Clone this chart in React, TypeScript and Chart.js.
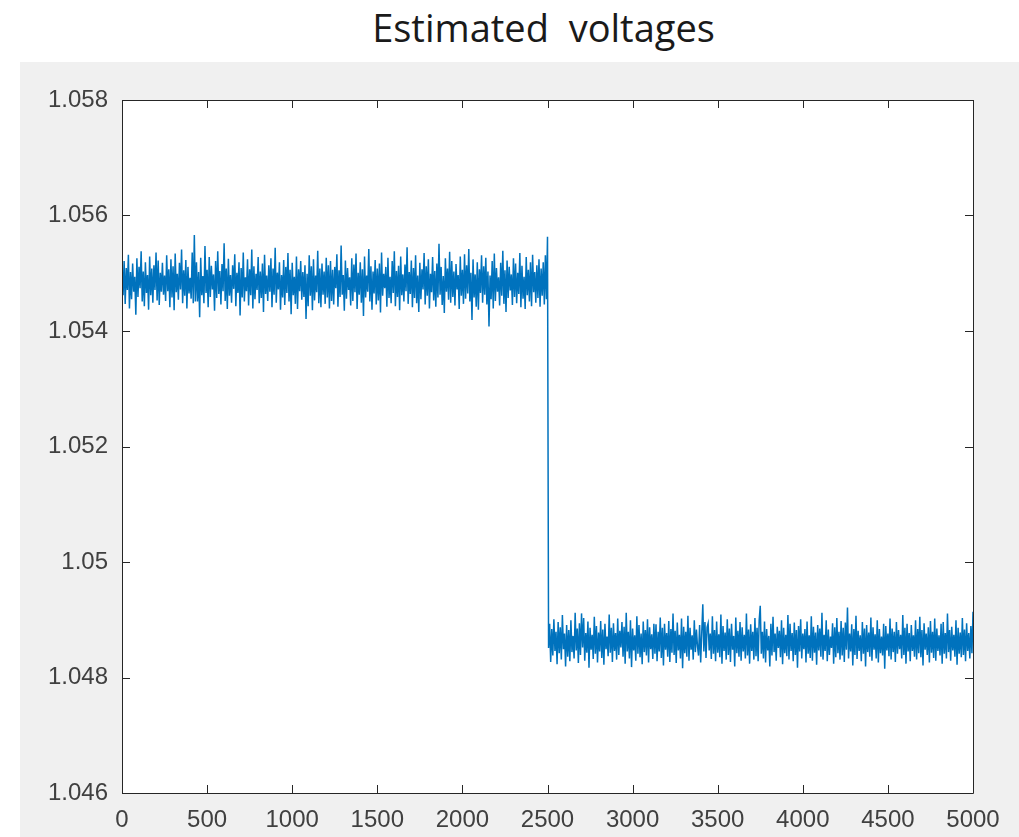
import React, { useEffect, useRef } from "react";
import { Chart, registerables } from "chart.js";

Chart.register(...registerables);

const TITLE = "Estimated  voltages";
const X_TICKS = [0, 500, 1000, 1500, 2000, 2500, 3000, 3500, 4000, 4500, 5000];
const Y_TICKS = [1.046, 1.048, 1.05, 1.052, 1.054, 1.056, 1.058];
const Y_TICK_LABELS = ["1.046", "1.048", "1.05", "1.052", "1.054", "1.056", "1.058"];

const SAMPLE_STEP = 6.25;
const STEP_SAMPLE = 2500;
const STEP_PEAK = 1.05563;

// before the step (samples 0 .. 2493.75)
const voltagesBefore = [
  1.05498, 1.05462, 1.05521, 1.05447, 1.05509, 1.05471, 1.05532, 1.05439, 1.05502, 1.05455,
  1.05517, 1.05468, 1.05494, 1.05428, 1.05526, 1.05459, 1.05511, 1.05474, 1.05538, 1.05451,
  1.05503, 1.05443, 1.05519, 1.05466, 1.05497, 1.05437, 1.05529, 1.05462, 1.05508, 1.05449,
  1.05514, 1.05471, 1.05536, 1.05453, 1.05522, 1.05445, 1.05501, 1.05468, 1.05518, 1.05463,
  1.05496, 1.05452, 1.05531, 1.05469, 1.05507, 1.05441, 1.05524, 1.05458, 1.05512, 1.05436,
  1.05534, 1.05467, 1.05499, 1.05454, 1.05518, 1.05472, 1.05541, 1.05448, 1.05505, 1.05461,
  1.05523, 1.05439, 1.05511, 1.05465, 1.05492, 1.05456, 1.05536, 1.05448, 1.05566, 1.05451,
  1.05519, 1.05451, 1.05502, 1.05424, 1.05527, 1.05462, 1.05495, 1.05448, 1.05547, 1.05466,
  1.05506, 1.05441, 1.05528, 1.05459, 1.05513, 1.05472, 1.05498, 1.05435, 1.05521, 1.05457,
  1.05538, 1.05464, 1.05504, 1.05446, 1.05516, 1.05469, 1.05552, 1.05452, 1.05508, 1.05438,
  1.05525, 1.05461, 1.05497, 1.05449, 1.05514, 1.05473, 1.05533, 1.05443, 1.05501, 1.05466,
  1.05519, 1.05427, 1.05509, 1.05458, 1.05536, 1.05451, 1.05493, 1.05469, 1.05524, 1.05444,
  1.05507, 1.05462, 1.05541, 1.05439, 1.05512, 1.05455, 1.05499, 1.05471, 1.05528, 1.05448,
  1.05503, 1.05457, 1.05517, 1.05433, 1.05532, 1.05464, 1.05496, 1.05452, 1.05514, 1.05468,
  1.05526, 1.05441, 1.05508, 1.05463, 1.05544, 1.05449, 1.05501, 1.05472, 1.05519, 1.05437,
  1.05497, 1.05458, 1.05523, 1.05445, 1.05511, 1.05466, 1.05535, 1.05451, 1.05506, 1.05429,
  1.05518, 1.05462, 1.05494, 1.05447, 1.05529, 1.05438, 1.05507, 1.05469, 1.05521, 1.05454,
  1.05502, 1.05459, 1.05514, 1.05421, 1.05499, 1.05443, 1.05531, 1.05461, 1.05512, 1.05436,
  1.05524, 1.05453, 1.05496, 1.05467, 1.05539, 1.05448, 1.05508, 1.05441, 1.05517, 1.05463,
  1.05503, 1.05447, 1.05527, 1.05458, 1.05514, 1.05439, 1.05521, 1.05452, 1.05506, 1.05446,
  1.05511, 1.05474, 1.05533, 1.05442, 1.05505, 1.05459, 1.05548, 1.05463, 1.05497, 1.05435,
  1.05522, 1.05456, 1.05509, 1.05471, 1.05493, 1.05444, 1.05526, 1.05452, 1.05515, 1.05467,
  1.05534, 1.05438, 1.05501, 1.05463, 1.05519, 1.05449, 1.05507, 1.05426, 1.05529, 1.05458,
  1.05496, 1.05468, 1.05542, 1.05451, 1.05512, 1.05437, 1.05503, 1.05465, 1.05523, 1.05446,
  1.05508, 1.05453, 1.05517, 1.05432, 1.05536, 1.05461, 1.05499, 1.05474, 1.05511, 1.05442,
  1.05527, 1.05457, 1.05494, 1.05448, 1.05521, 1.05466, 1.05538, 1.05443, 1.05504, 1.05459,
  1.05513, 1.05436, 1.05529, 1.05462, 1.05498, 1.05451, 1.05515, 1.05469, 1.05545, 1.05447,
  1.05502, 1.05464, 1.05522, 1.05441, 1.05509, 1.05457, 1.05531, 1.05448, 1.05496, 1.05433,
  1.05518, 1.05455, 1.05507, 1.05472, 1.05535, 1.05446, 1.05512, 1.05461, 1.05524, 1.05439,
  1.05499, 1.05467, 1.05528, 1.05453, 1.05504, 1.05442, 1.05517, 1.05458, 1.05551, 1.05463,
  1.05511, 1.05445, 1.05495, 1.05431, 1.05526, 1.05468, 1.05508, 1.05454, 1.05537, 1.05449,
  1.05521, 1.05459, 1.05503, 1.05444, 1.05516, 1.05472, 1.05497, 1.05438, 1.05529, 1.05461,
  1.05506, 1.05447, 1.05533, 1.05456, 1.05514, 1.05465, 1.05542, 1.05451, 1.05501, 1.05419,
  1.05524, 1.05458, 1.05498, 1.05442, 1.05519, 1.05437, 1.05507, 1.05466, 1.05531, 1.05449,
  1.05512, 1.05463, 1.05527, 1.05446, 1.05503, 1.05408, 1.05496, 1.05455, 1.05521, 1.05439,
  1.05534, 1.05452, 1.05509, 1.05468, 1.05493, 1.05444, 1.05518, 1.05461, 1.05539, 1.05447,
  1.05505, 1.05433, 1.05522, 1.05457, 1.05511, 1.05470, 1.05498, 1.05445, 1.05526, 1.05459,
  1.05517, 1.05448, 1.05501, 1.05464, 1.05535, 1.05441, 1.05513, 1.05456, 1.05494, 1.05438,
  1.05528, 1.05462, 1.05506, 1.05451, 1.05519, 1.05443, 1.05532, 1.05467, 1.05502, 1.05449,
  1.05514, 1.05457, 1.05524, 1.05442, 1.05508, 1.05461, 1.05519, 1.05446, 1.05531, 1.05455,
];

// after the step (samples 2506.25 .. 5000)
const voltagesAfter = [
  1.04851, 1.04893, 1.04827, 1.04884, 1.04838, 1.04901, 1.04846, 1.04879, 1.04823, 1.04896,
  1.04842, 1.04887, 1.04831, 1.04908, 1.04849, 1.04876, 1.04819, 1.04891, 1.04836, 1.04882,
  1.04828, 1.04899, 1.04844, 1.04872, 1.04833, 1.04912, 1.04847, 1.04885, 1.04825, 1.04894,
  1.04839, 1.04911, 1.04852, 1.04903, 1.04829, 1.04877, 1.04843, 1.04897, 1.04817, 1.04886,
  1.04848, 1.04874, 1.04832, 1.04905, 1.04841, 1.04889, 1.04826, 1.04878, 1.04845, 1.04898,
  1.04834, 1.04883, 1.04822, 1.04893, 1.04849, 1.04871, 1.04837, 1.04909, 1.04843, 1.04886,
  1.04827, 1.04894, 1.04846, 1.04877, 1.04831, 1.04902, 1.04839, 1.04881, 1.04852, 1.04896,
  1.04836, 1.04888, 1.04824, 1.04912, 1.04845, 1.04879, 1.04833, 1.04899, 1.04818, 1.04885,
  1.04847, 1.04873, 1.04829, 1.04906, 1.04841, 1.04891, 1.04835, 1.04876, 1.04823, 1.04897,
  1.04844, 1.04882, 1.04838, 1.04901, 1.04826, 1.04887, 1.04849, 1.04875, 1.04832, 1.04893,
  1.04841, 1.04892, 1.04828, 1.04879, 1.04845, 1.04904, 1.04834, 1.04886, 1.04821, 1.04893,
  1.04848, 1.04877, 1.04836, 1.04898, 1.04827, 1.04884, 1.04843, 1.04911, 1.04839, 1.04881,
  1.04825, 1.04895, 1.04847, 1.04874, 1.04833, 1.04902, 1.04816, 1.04888, 1.04842, 1.04879,
  1.04836, 1.04907, 1.04829, 1.04886, 1.04848, 1.04873, 1.04831, 1.04899, 1.04844, 1.04883,
  1.04854, 1.04838, 1.04891, 1.04826, 1.04878, 1.04927, 1.04845, 1.04896, 1.04834, 1.04887,
  1.04894, 1.04847, 1.04876, 1.04832, 1.04906, 1.04841, 1.04882, 1.04828, 1.04897, 1.04843,
  1.04875, 1.04835, 1.04909, 1.04824, 1.04889, 1.04846, 1.04878, 1.04831, 1.04901, 1.04839,
  1.04885, 1.04827, 1.04893, 1.04848, 1.04872, 1.04819, 1.04904, 1.04842, 1.04881, 1.04836,
  1.04896, 1.04829, 1.04887, 1.04845, 1.04874, 1.04833, 1.04911, 1.04838, 1.04883, 1.04824,
  1.04892, 1.04846, 1.04879, 1.04831, 1.04903, 1.04837, 1.04886, 1.04828, 1.04899, 1.04924,
  1.04841, 1.04879, 1.04833, 1.04897, 1.04826, 1.04884, 1.04847, 1.04872, 1.04819, 1.04893,
  1.04838, 1.04905, 1.04844, 1.04876, 1.04829, 1.04888, 1.04851, 1.04881, 1.04835, 1.04899,
  1.04823, 1.04886, 1.04842, 1.04874, 1.04837, 1.04908, 1.04831, 1.04893, 1.04846, 1.04877,
  1.04828, 1.04895, 1.04839, 1.04882, 1.04817, 1.04889, 1.04845, 1.04901, 1.04833, 1.04876,
  1.04849, 1.04884, 1.04826, 1.04897, 1.04841, 1.04873, 1.04834, 1.04906, 1.04829, 1.04888,
  1.04843, 1.04878, 1.04822, 1.04891, 1.04847, 1.04885, 1.04836, 1.04912, 1.04831, 1.04874,
  1.04846, 1.04899, 1.04828, 1.04883, 1.04839, 1.04871, 1.04851, 1.04894, 1.04824, 1.04887,
  1.04835, 1.04903, 1.04842, 1.04879, 1.04831, 1.04898, 1.04838, 1.04886, 1.04827, 1.04895,
  1.04848, 1.04921, 1.04833, 1.04876, 1.04845, 1.04892, 1.04821, 1.04884, 1.04839, 1.04907,
  1.04832, 1.04881, 1.04846, 1.04873, 1.04828, 1.04896, 1.04841, 1.04885, 1.04819, 1.04891,
  1.04844, 1.04878, 1.04836, 1.04904, 1.04829, 1.04887, 1.04848, 1.04875, 1.04833, 1.04899,
  1.04826, 1.04884, 1.04842, 1.04871, 1.04838, 1.04893, 1.04815, 1.04889, 1.04847, 1.04876,
  1.04837, 1.04902, 1.04831, 1.04885, 1.04844, 1.04879, 1.04827, 1.04896, 1.04841, 1.04882,
  1.04849, 1.04874, 1.04833, 1.04908, 1.04839, 1.04886, 1.04824, 1.04893, 1.04845, 1.04877,
  1.04828, 1.04891, 1.04846, 1.04873, 1.04836, 1.04899, 1.04831, 1.04884, 1.04842, 1.04905,
  1.04835, 1.04882, 1.04821, 1.04894, 1.04848, 1.04876, 1.04839, 1.04887, 1.04826, 1.04898,
  1.04843, 1.04879, 1.04834, 1.04902, 1.04829, 1.04885, 1.04846, 1.04873, 1.04838, 1.04893,
  1.04824, 1.04896, 1.04841, 1.04877, 1.04833, 1.04911, 1.04844, 1.04882, 1.04829, 1.04888,
  1.04847, 1.04874, 1.04836, 1.04899, 1.04822, 1.04886, 1.04841, 1.04878, 1.04835, 1.04903,
  1.04839, 1.04883, 1.04828, 1.04894, 1.04846, 1.04877, 1.04833, 1.04889, 1.04842, 1.04914,
];

const AXIS_COLOR = "#262626";
const LABEL_COLOR = "#404040";
const LINE_COLOR = "#0072BD";

const boxPlugin = {
  id: "matlabBox",
  beforeDraw(chart: any) {
    const { ctx, chartArea } = chart;
    ctx.save();
    ctx.fillStyle = "#ffffff";
    ctx.fillRect(chartArea.left, chartArea.top, chartArea.right - chartArea.left, chartArea.bottom - chartArea.top);
    ctx.restore();
  },
  afterDraw(chart: any) {
    const { ctx, chartArea } = chart;
    const { left, right, top, bottom } = chartArea;
    const xs = chart.scales.x;
    const ys = chart.scales.y;
    const tl = 8;
    ctx.save();
    ctx.strokeStyle = AXIS_COLOR;
    ctx.lineWidth = 1;
    ctx.beginPath();
    ctx.rect(Math.round(left) + 0.5, Math.round(top) + 0.5, Math.round(right - left), Math.round(bottom - top));
    ctx.stroke();
    ctx.beginPath();
    X_TICKS.forEach((v) => {
      const px = Math.round(xs.getPixelForValue(v)) + 0.5;
      ctx.moveTo(px, bottom);
      ctx.lineTo(px, bottom - tl);
      ctx.moveTo(px, top);
      ctx.lineTo(px, top + tl);
    });
    Y_TICKS.forEach((v) => {
      const py = Math.round(ys.getPixelForValue(v)) + 0.5;
      ctx.moveTo(left, py);
      ctx.lineTo(left + tl, py);
      ctx.moveTo(right, py);
      ctx.lineTo(right - tl, py);
    });
    ctx.stroke();
    ctx.restore();
  },
};

export default function App() {
  const ref = useRef<HTMLCanvasElement>(null);

  useEffect(() => {
    document.body.style.margin = "0";
    const points: { x: number; y: number }[] = [];
    voltagesBefore.forEach((v, i) => points.push({ x: i * SAMPLE_STEP, y: v }));
    points.push({ x: STEP_SAMPLE, y: STEP_PEAK });
    voltagesAfter.forEach((v, i) => points.push({ x: STEP_SAMPLE + (i + 1) * SAMPLE_STEP, y: v }));

    const chart = new Chart(ref.current!, {
      type: "line",
      data: {
        datasets: [
          {
            data: points,
            borderColor: LINE_COLOR,
            borderWidth: 1.5,
            pointRadius: 0,
            tension: 0,
            fill: false,
          },
        ],
      },
      plugins: [boxPlugin],
      options: {
        animation: false,
        responsive: false,
        devicePixelRatio: 1,
        layout: { padding: { left: 0, right: 46, top: 100, bottom: 0 } },
        plugins: { legend: { display: false }, tooltip: { enabled: false }, title: { display: false } },
        scales: {
          x: {
            type: "linear",
            min: 0,
            max: 5000,
            afterBuildTicks: (s: any) => {
              s.ticks = X_TICKS.map((v) => ({ value: v }));
            },
            afterFit: (s: any) => {
              s.height = 44;
            },
            grid: { display: false, drawTicks: false },
            border: { display: false },
            ticks: {
              color: LABEL_COLOR,
              font: { family: "Liberation Sans, Arial, sans-serif", size: 24 },
              padding: 13,
              maxRotation: 0,
              autoSkip: false,
              callback: (v: any) => String(v),
            },
          },
          y: {
            type: "linear",
            min: 1.046,
            max: 1.058,
            afterBuildTicks: (s: any) => {
              s.ticks = Y_TICKS.map((v) => ({ value: v }));
            },
            afterFit: (s: any) => {
              s.width = 122;
            },
            grid: { display: false, drawTicks: false },
            border: { display: false },
            ticks: {
              color: LABEL_COLOR,
              font: { family: "Liberation Sans, Arial, sans-serif", size: 24 },
              padding: 14,
              autoSkip: false,
              callback: (v: any) => {
                const idx = Y_TICKS.findIndex((t) => Math.abs(t - Number(v)) < 1e-9);
                return idx >= 0 ? Y_TICK_LABELS[idx] : "";
              },
            },
          },
        },
      },
    });
    return () => chart.destroy();
  }, []);

  return (
    <div style={{ position: "relative", width: 1019, height: 837, background: "#ffffff", overflow: "hidden" }}>
      <div style={{ position: "absolute", left: 20, top: 62, right: 0, bottom: 0, background: "#f0f0f0" }} />
      <div
        style={{
          position: "absolute",
          left: 118,
          width: 851,
          top: 2,
          textAlign: "center",
          fontFamily: "'Open Sans', 'Noto Sans', sans-serif",
          fontSize: 38,
          color: "#1a1a1a",
          whiteSpace: "pre",
          lineHeight: "50px",
        }}
      >
        {TITLE}
      </div>
      <canvas ref={ref} width={1019} height={837} style={{ position: "absolute", left: 0, top: 0 }} />
    </div>
  );
}
